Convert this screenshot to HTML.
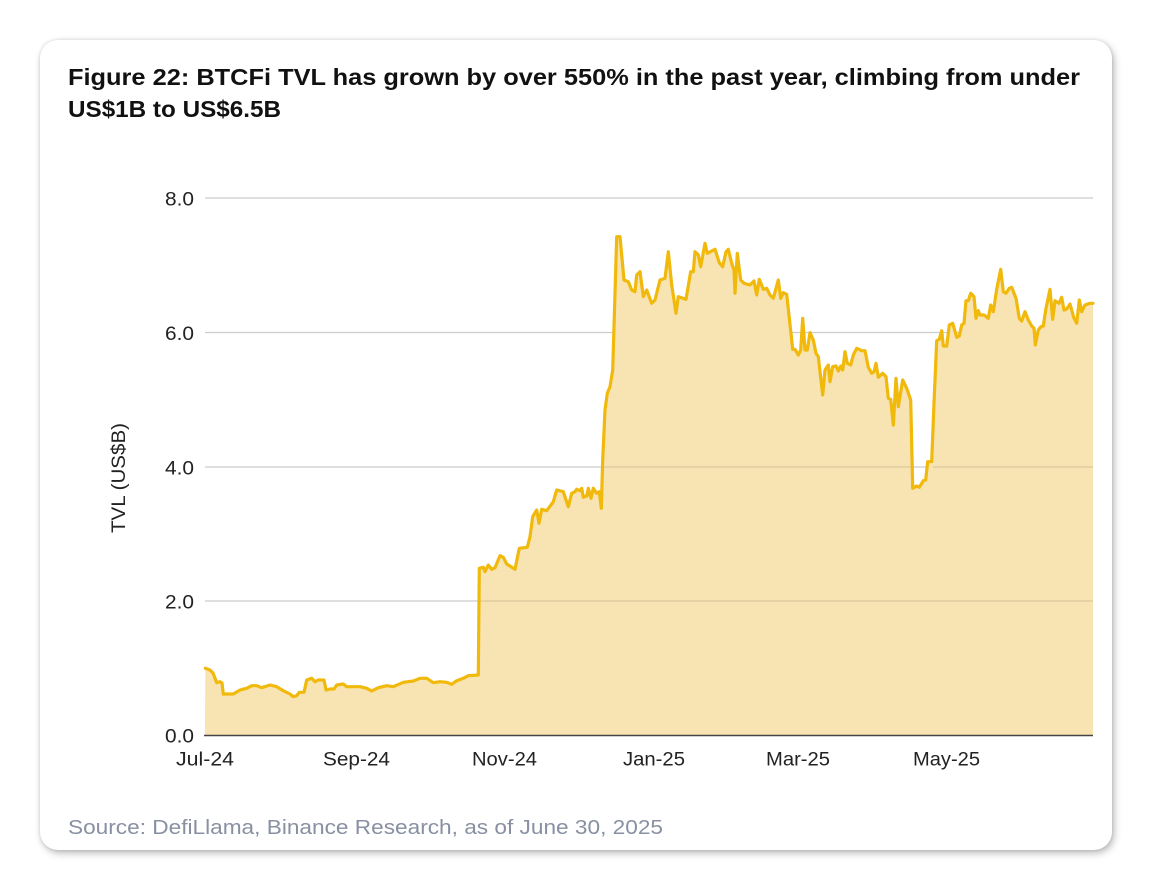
<!DOCTYPE html>
<html>
<head>
<meta charset="utf-8">
<style>
  html, body { margin:0; padding:0; background:#ffffff; }
  body { width:1152px; height:890px; position:relative; overflow:hidden; }
  .card {
    position:absolute; left:40px; top:40px; width:1072px; height:810px;
    background:#fff; border-radius:18px;
    box-shadow: 2px 3px 8px rgba(0,0,0,0.28), 0 0 3px rgba(0,0,0,0.12);
  }
  svg { position:absolute; left:0; top:0; }
</style>
</head>
<body>
<div class="card"></div>
<svg width="1152" height="890" viewBox="0 0 1152 890" xmlns="http://www.w3.org/2000/svg">
  <!-- Title -->
  <text x="68" y="85" font-family="'Liberation Sans', Arial, sans-serif" font-weight="bold" font-size="23" fill="#111" textLength="1012" lengthAdjust="spacingAndGlyphs">Figure 22: BTCFi TVL has grown by over 550% in the past year, climbing from under</text>
  <text x="68" y="117" font-family="'Liberation Sans', Arial, sans-serif" font-weight="bold" font-size="23" fill="#111" textLength="213" lengthAdjust="spacingAndGlyphs">US$1B to US$6.5B</text>

  <!-- Gridlines -->
  <g stroke="#cccccc" stroke-width="1.3">
    <line x1="205" y1="198" x2="1093" y2="198"/>
    <line x1="205" y1="332.5" x2="1093" y2="332.5"/>
    <line x1="205" y1="467" x2="1093" y2="467"/>
    <line x1="205" y1="601" x2="1093" y2="601"/>
  </g>

  <!-- Area fill -->
  <polygon fill="#f8e4b3" points="205,735 205.3,668.3 210,670 213,673 216.7,682.7 220,681.7 222,683 223.3,694 233.3,694 240,690 246.7,688.3 251.7,685.7 256.7,685.7 261.7,687.7 270,685 276.7,686.7 283.3,690.7 290,694 293.3,696.7 296.7,695.7 299.3,692.3 304,692.3 306.7,680 311.7,678.3 315,681.7 318.3,680 324,680 326,690 330,689 334,689 336.7,685 343.3,684 346.7,686.7 360,686.7 366.7,688.3 371.7,691 378.3,687.7 386.7,685.7 393.3,686.7 403.3,682.3 413.3,681 420,678.3 426.7,678.3 433.3,682.7 440,681.7 446.7,682.3 451.7,684.3 456.7,680.7 463.3,678.3 468.3,675.7 478.3,675 479.3,568.3 483.3,567.3 485,571.7 488.3,565 491.7,569.3 495,567.7 500,555.7 503.3,557.3 506.7,564 515,569.3 519.3,548.3 527.3,547.3 530,536.7 532.7,516.7 536.7,510 539,523.3 541.7,509.3 546.7,510.7 553.3,501.7 556.7,490 563.3,491.7 568.3,506.7 571.7,493.3 575,491.7 576.7,489.3 580,490.7 581.7,488.3 583.3,497.3 586.7,496 588.3,488.3 591,498.3 593.3,488.3 596.7,493.3 599.3,491.7 601.3,508.3 602.7,460 605,410 607.3,393.3 610,386.7 612.7,370 616.7,236.7 620,236.7 624,280 628.3,281.7 631.7,290 635,291.7 636.7,275 640,271.7 643.3,296.7 646.7,290 651.7,303.3 655,300 660,280 665,278.3 668.3,251.7 671.7,285 676,313.3 678.3,296.7 686,299.3 690.7,271.7 693.3,271.7 695,251.7 698.3,255 700.7,266.7 705,243.3 707.3,253.3 715,249.3 719.3,262.7 722.7,266.7 726,251.7 728.3,249.3 731.7,263.3 734,270 735,293.3 737.3,253.3 740.7,280 744,283.3 750,285 754,281 756.7,295 759.3,279.3 763.3,289.3 766.7,288.3 770,295 773.3,298.3 778.3,280 780.7,298.3 783.3,292.7 786.7,294.3 792.7,349.3 795,349.3 798.3,355 800.7,350 802.7,318.3 805,350 807.3,350 810,332.7 813.3,340 816,353.3 818.3,356.7 822.7,395 825,370 828.3,365 830,381.7 832.7,366.7 836,366 838.3,371 840.7,366 842.7,370 845,351.7 847.3,363.3 850.7,365 853.3,355 856.7,348.3 861.7,350.7 865,350.7 868.3,367.3 871.7,373.3 874,371.7 876,363.3 878.3,377.3 882.7,373.3 886,376.7 888.3,398.3 890.7,399.3 893.3,425 896,378.3 898.3,406.7 902.7,380 906.7,388.3 910.7,400 912.7,488.3 916.7,486 919.3,487.3 923.3,480.7 925.7,480 927.7,461.7 931.7,461.7 934,403.3 936.7,340.7 939.3,339.3 941.7,330.7 943.3,346 946.7,346 949.3,325 952.7,323.3 956.7,337.3 959.3,336 961.7,325 964,323.3 966,300.7 968.3,300.7 970.7,293.3 974,296.7 976,318.3 978.3,310.7 980,315 984,315 988.3,318.3 990.7,305 993.3,311.7 996.7,289.3 1000.7,269.3 1003.3,291.7 1006,293.3 1009.3,288.3 1011.7,287.3 1016,298.3 1019.3,318.3 1021.7,321 1025,311.7 1028.3,320 1031.7,326 1034,328.3 1035.3,345 1038.3,330 1041,326.7 1043.3,326 1046,308.3 1050,289.3 1052.7,319.3 1055,300.7 1059,303.3 1061.7,297.3 1064,310 1066.7,309 1070,304 1074,318.3 1076.7,323.3 1079.3,300 1081.7,311.7 1085,305 1090,303.3 1093,303.3 1093,735"/>

  <!-- gridlines over fill (subtle) -->
  <g stroke="#c9b78e" stroke-width="1.2" opacity="0.6">
    <line x1="479" y1="601" x2="1093" y2="601"/>
    <line x1="604" y1="467" x2="912" y2="467"/>
    <line x1="933" y1="467" x2="1093" y2="467"/>
  </g>

  <!-- Line -->
  <polyline fill="none" stroke="#f0b90b" stroke-width="3.2" stroke-linejoin="round" stroke-linecap="round" points="205.3,668.3 210,670 213,673 216.7,682.7 220,681.7 222,683 223.3,694 233.3,694 240,690 246.7,688.3 251.7,685.7 256.7,685.7 261.7,687.7 270,685 276.7,686.7 283.3,690.7 290,694 293.3,696.7 296.7,695.7 299.3,692.3 304,692.3 306.7,680 311.7,678.3 315,681.7 318.3,680 324,680 326,690 330,689 334,689 336.7,685 343.3,684 346.7,686.7 360,686.7 366.7,688.3 371.7,691 378.3,687.7 386.7,685.7 393.3,686.7 403.3,682.3 413.3,681 420,678.3 426.7,678.3 433.3,682.7 440,681.7 446.7,682.3 451.7,684.3 456.7,680.7 463.3,678.3 468.3,675.7 478.3,675 479.3,568.3 483.3,567.3 485,571.7 488.3,565 491.7,569.3 495,567.7 500,555.7 503.3,557.3 506.7,564 515,569.3 519.3,548.3 527.3,547.3 530,536.7 532.7,516.7 536.7,510 539,523.3 541.7,509.3 546.7,510.7 553.3,501.7 556.7,490 563.3,491.7 568.3,506.7 571.7,493.3 575,491.7 576.7,489.3 580,490.7 581.7,488.3 583.3,497.3 586.7,496 588.3,488.3 591,498.3 593.3,488.3 596.7,493.3 599.3,491.7 601.3,508.3 602.7,460 605,410 607.3,393.3 610,386.7 612.7,370 616.7,236.7 620,236.7 624,280 628.3,281.7 631.7,290 635,291.7 636.7,275 640,271.7 643.3,296.7 646.7,290 651.7,303.3 655,300 660,280 665,278.3 668.3,251.7 671.7,285 676,313.3 678.3,296.7 686,299.3 690.7,271.7 693.3,271.7 695,251.7 698.3,255 700.7,266.7 705,243.3 707.3,253.3 715,249.3 719.3,262.7 722.7,266.7 726,251.7 728.3,249.3 731.7,263.3 734,270 735,293.3 737.3,253.3 740.7,280 744,283.3 750,285 754,281 756.7,295 759.3,279.3 763.3,289.3 766.7,288.3 770,295 773.3,298.3 778.3,280 780.7,298.3 783.3,292.7 786.7,294.3 792.7,349.3 795,349.3 798.3,355 800.7,350 802.7,318.3 805,350 807.3,350 810,332.7 813.3,340 816,353.3 818.3,356.7 822.7,395 825,370 828.3,365 830,381.7 832.7,366.7 836,366 838.3,371 840.7,366 842.7,370 845,351.7 847.3,363.3 850.7,365 853.3,355 856.7,348.3 861.7,350.7 865,350.7 868.3,367.3 871.7,373.3 874,371.7 876,363.3 878.3,377.3 882.7,373.3 886,376.7 888.3,398.3 890.7,399.3 893.3,425 896,378.3 898.3,406.7 902.7,380 906.7,388.3 910.7,400 912.7,488.3 916.7,486 919.3,487.3 923.3,480.7 925.7,480 927.7,461.7 931.7,461.7 934,403.3 936.7,340.7 939.3,339.3 941.7,330.7 943.3,346 946.7,346 949.3,325 952.7,323.3 956.7,337.3 959.3,336 961.7,325 964,323.3 966,300.7 968.3,300.7 970.7,293.3 974,296.7 976,318.3 978.3,310.7 980,315 984,315 988.3,318.3 990.7,305 993.3,311.7 996.7,289.3 1000.7,269.3 1003.3,291.7 1006,293.3 1009.3,288.3 1011.7,287.3 1016,298.3 1019.3,318.3 1021.7,321 1025,311.7 1028.3,320 1031.7,326 1034,328.3 1035.3,345 1038.3,330 1041,326.7 1043.3,326 1046,308.3 1050,289.3 1052.7,319.3 1055,300.7 1059,303.3 1061.7,297.3 1064,310 1066.7,309 1070,304 1074,318.3 1076.7,323.3 1079.3,300 1081.7,311.7 1085,305 1090,303.3 1093,303.3"/>

  <!-- Baseline axis -->
  <line x1="204" y1="735.5" x2="1093" y2="735.5" stroke="#444" stroke-width="1.6"/>

  <!-- Y tick labels -->
  <g font-family="'Liberation Sans', Arial, sans-serif" font-size="19" fill="#222">
    <text x="165" y="205.5" textLength="29" lengthAdjust="spacingAndGlyphs">8.0</text>
    <text x="165" y="340" textLength="29" lengthAdjust="spacingAndGlyphs">6.0</text>
    <text x="165" y="474.5" textLength="29" lengthAdjust="spacingAndGlyphs">4.0</text>
    <text x="165" y="608.5" textLength="29" lengthAdjust="spacingAndGlyphs">2.0</text>
    <text x="165" y="742.5" textLength="29" lengthAdjust="spacingAndGlyphs">0.0</text>
  </g>

  <!-- X tick labels -->
  <g font-family="'Liberation Sans', Arial, sans-serif" font-size="19" fill="#222">
    <text x="176" y="765.5" textLength="58" lengthAdjust="spacingAndGlyphs">Jul-24</text>
    <text x="323" y="765.5" textLength="67" lengthAdjust="spacingAndGlyphs">Sep-24</text>
    <text x="472" y="765.5" textLength="65" lengthAdjust="spacingAndGlyphs">Nov-24</text>
    <text x="623" y="765.5" textLength="62" lengthAdjust="spacingAndGlyphs">Jan-25</text>
    <text x="766" y="765.5" textLength="64" lengthAdjust="spacingAndGlyphs">Mar-25</text>
    <text x="913" y="765.5" textLength="67" lengthAdjust="spacingAndGlyphs">May-25</text>
  </g>

  <!-- Y axis title -->
  <text x="0" y="0" transform="translate(125,533) rotate(-90)" font-family="'Liberation Sans', Arial, sans-serif" font-size="19" fill="#222" textLength="110" lengthAdjust="spacingAndGlyphs">TVL (US$B)</text>

  <!-- Source -->
  <text x="68" y="834" font-family="'Liberation Sans', Arial, sans-serif" font-size="20" fill="#8890a2" textLength="595" lengthAdjust="spacingAndGlyphs">Source: DefiLlama, Binance Research, as of June 30, 2025</text>
</svg>
</body>
</html>
